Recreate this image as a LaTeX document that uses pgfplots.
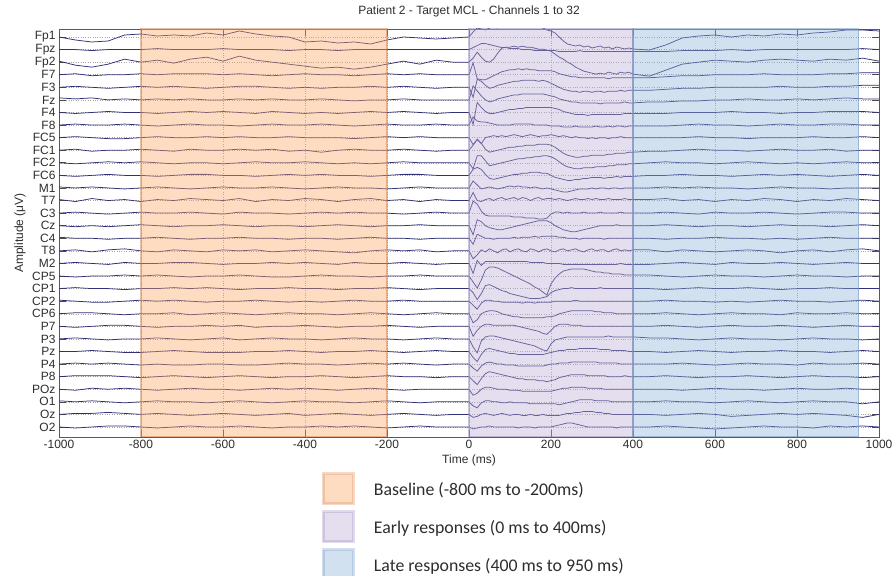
\documentclass[border=0pt]{standalone}
\usepackage{fontspec}
\setmainfont{Liberation Sans}
\newfontfamily\legfont{Carlito}
\usepackage{pgfplots}
\usepackage{pgfplotstable}
\pgfplotsset{compat=1.18}
\definecolor{trcol}{RGB}{48,48,118}
\definecolor{ofill}{RGB}{250,168,103}
\definecolor{oline}{RGB}{215,130,75}
\definecolor{pfill}{RGB}{188,172,212}
\definecolor{pline}{RGB}{150,135,190}
\definecolor{bfill}{RGB}{143,180,218}
\definecolor{bline}{RGB}{105,145,190}
\definecolor{txt}{RGB}{45,45,45}

% one row per channel: deviation (px, up positive) at the times of row t
\pgfplotstableread[header=false,row sep=\\]{
t
-1000 -960 -920 -880 -840 -800 -760 -720 -680 -640
-600 -560 -520 -480 -440 -400 -360 -320 -280 -240
-200 -160 -120 -80 -40
0 10 20 30 40 50 60 70 80 90
100 110 120 130 140 150 160 170 180 190
200 210 220 230 240 250 260 270 280 290
300 310 320 330 340 350 360 370 380 390
400
440 480 520 560 600 640 680 720 760 800
840 880 920 960 1000 \\
c1
0 -3 -5 -4 2 3 1 2 1 4
2 6 3 1 0 -5 -4 -6 -5 -7
-3 0 -1 -2 -1
0 5 9 8 7 9 10 9 14 15
15 16 16 15 16 15 14 12 9 7
6 4 0 -4 -7 -8 -9 -8 -10 -9
-11 -10 -9 -11 -10 -12 -10 -11 -12 -11
-12
-13 -8 -1 1 2 0 2 1 3 2
4 5 7 7 6 \\
c2
0 0 -1 0 0 0 1 0 0 0
1 0 0 0 -1 0 0 -1 0 0
0 0 0 0 0
0 2 4 6 6 5 4 3 2 2
1 1 1 0 0 0 -1 -1 -1 -1
-1 -1 -2 -2 -2 -2 -2 -1 -2 -2
-2 -2 -2 -2 -2 -2 -2 -2 -2 -2
-2
-2 -2 -1 -1 -1 0 -1 0 0 0
0 0 0 1 0 \\
c3
1 -3 -5 -2 3 0 2 -1 3 5
1 6 2 0 -2 -4 -6 -5 -7 -5
-2 1 -2 2 0
0 4 10 5 1 0 3 9 14 15
15 16 15 16 15 15 14 13 13 12
11 8 5 3 0 -2 -5 -7 -9 -10
-11 -12 -11 -12 -10 -11 -12 -10 -11 -10
-12
-14 -8 -2 0 2 1 0 2 3 2
1 3 2 4 1 \\
c4
0 1 -1 0 0 1 0 1 1 1
0 1 0 -1 0 1 0 0 -1 0
1 0 1 0 0
0 12 -4 -5 -5 -3 -1 1 3 4
5 5 6 5 6 5 5 4 4 4
4 3 1 0 -1 -2 -2 -3 -3 -3
-3 -3 -3 -3 -4 -3 -3 -3 -3 -3
-3
-3 -2 -1 -1 0 0 0 1 0 0
0 1 1 2 2 \\
c5
0 1 0 -1 0 1 0 1 0 -1
0 1 1 0 -1 0 -1 0 0 1
0 1 0 -1 0
0 -10 8 6 2 -1 0 2 3 4
5 6 6 7 7 7 7 6 7 6
4 2 0 -2 -3 -4 -4 -5 -4 -4
-5 -4 -4 -5 -4 -4 -4 -3 -4 -3
-3
-3 -2 -1 -1 0 0 0 0 1 0
0 1 1 2 2 \\
c6
2 1 2 0 1 0 1 0 1 0
0 1 0 1 0 0 1 0 -1 0
0 1 0 0 0
0 14 9 4 0 -2 -1 1 2 3
4 5 5 6 6 6 6 6 6 5
4 3 1 0 -1 -2 -2 -3 -3 -3
-3 -3 -4 -3 -3 -3 -3 -3 -2 -3
-3
-2 -2 -1 -1 0 0 1 0 0 1
0 1 2 1 1 \\
c7
0 -1 0 1 0 0 -1 0 1 0
1 0 -1 1 0 -1 0 -1 0 1
0 1 0 -1 0
0 -12 10 5 1 -1 -1 0 1 2
3 3 4 4 5 5 5 5 5 5
5 4 3 1 0 -1 -2 -2 -2 -3
-2 -2 -2 -2 -2 -2 -2 -2 -1 -1
-1
-1 -1 0 0 0 1 0 0 -1 0
0 1 1 1 0 \\
c8
0 1 0 0 1 0 -1 0 1 0
0 -1 0 1 0 0 1 0 -1 0
1 0 0 1 0
0 8 4 3 3 2 1 0 0 0
0 1 1 1 1 1 0 0 0 0
-1 -1 -1 -2 -2 -2 -1 -2 -2 -2
-2 -1 -2 -2 -1 -2 -1 -1 -2 -1
-1
-1 -1 0 1 0 0 -1 0 1 0
0 1 1 0 0 \\
c9
0 1 0 -1 -1 0 1 0 0 1
0 1 0 0 1 0 0 0 -1 0
1 0 1 0 0
0 -7 -2 -6 0 1 2 1 2 1
2 3 2 1 2 3 2 1 2 2
3 2 1 2 1 0 1 0 0 -1
0 -1 0 0 -1 0 0 1 0 0
0
0 0 0 1 0 0 -1 0 0 0
1 0 0 1 0 \\
c10
0 1 -1 0 0 1 0 -1 1 0
0 1 0 1 -1 0 -2 0 1 0
0 1 0 -1 0
0 5 11 7 1 -2 -1 0 1 2
3 3 4 4 5 5 5 6 6 6
5 3 0 -3 -5 -6 -7 -7 -6 -6
-5 -5 -5 -5 -4 -4 -3 -3 -3 -2
-2
-1 -1 0 1 0 0 -1 0 1 0
0 1 -1 0 0 \\
c11
0 -1 0 1 0 1 0 -1 0 0
-1 0 1 0 0 1 0 -1 0 -1
0 1 0 0 0
0 -6 7 7 2 -3 -2 -1 0 1
2 3 4 4 5 5 6 6 7 7
6 4 1 -2 -4 -5 -6 -6 -5 -5
-5 -4 -4 -4 -3 -3 -2 -2 -2 -1
-1
0 1 0 0 -1 0 1 0 -1 0
-1 0 1 0 0 \\
c12
0 -1 0 1 0 0 -1 0 1 1
0 0 -1 0 1 0 1 0 0 -1
0 1 1 0 0
0 6 8 6 1 -3 -4 -3 -2 -1
0 1 1 2 2 3 3 3 2 2
0 -2 -3 -4 -5 -5 -4 -4 -3 -3
-2 -2 -2 -3 -2 -2 -1 -2 -1 -1
-1
0 0 1 0 0 -1 0 1 0 1
0 -1 0 1 0 \\
c13
1 0 1 0 -1 0 1 0 -1 0
1 0 0 1 0 -1 0 1 0 0
-1 0 1 0 0
0 7 3 -1 0 1 0 -1 0 1
2 1 2 1 1 0 1 0 -1 0
-1 -2 -3 -4 -4 -3 -2 -1 -1 -1
0 -1 0 0 -1 0 0 -1 0 0
0
0 1 0 1 0 0 -1 0 1 0
0 -1 0 0 0 \\
c14
1 -1 2 0 1 -1 1 0 2 1
0 2 -1 1 0 2 1 -1 1 2
0 1 -1 1 0
0 8 0 -1 1 2 0 2 3 1
2 3 1 3 2 0 2 3 1 2
2 1 2 1 0 1 2 1 1 2
1 2 1 1 2 1 1 1 2 1
1
1 2 0 1 -1 1 0 2 1 -1
1 0 2 1 0 \\
c15
0 1 0 -1 0 1 0 0 1 0
-1 1 0 0 -1 0 1 0 1 0
0 -1 0 1 0
0 12 9 2 -2 -3 -3 -3 -3 -3
-3 -4 -4 -4 -5 -5 -5 -6 -6 -5
-1 1 1 0 1 0 0 0 1 0
0 0 1 0 0 0 0 1 0 0
0
0 1 0 -1 1 0 0 1 0 -1
0 1 1 0 0 \\
c16
0 -1 0 -1 0 1 0 -1 0 0
1 0 -1 0 0 -1 0 1 0 -1
0 0 1 0 0
0 -9 6 4 0 -2 -3 -4 -4 -3
-2 -1 0 1 2 3 4 5 5 5
3 0 -2 -4 -5 -6 -6 -5 -4 -3
-2 -1 0 0 0 0 1 0 0 0
0
0 1 0 -1 0 0 -1 0 1 0
0 -1 0 1 0 \\
c17
1 0 0 -1 0 0 1 0 -1 0
0 1 0 0 -1 0 0 -1 0 1
0 0 -1 0 0
0 -6 4 2 0 0 -1 0 0 0
0 1 0 1 1 1 2 1 2 2
2 2 1 1 0 0 0 -1 0 0
0 0 0 -1 0 0 0 0 0 0
0
0 -1 0 0 1 0 0 -1 0 -1
0 1 0 0 0 \\
c18
0 1 -1 1 2 0 -1 1 0 -1
1 0 1 -1 0 1 0 -1 -2 0
1 0 1 -1 0
0 -8 -4 1 -1 2 0 -2 1 2
-1 1 2 0 -1 2 1 -1 1 2
0 -1 1 2 0 1 2 0 -1 1
2 0 1 1 -1 1 2 0 1 0
1
1 -1 1 0 -1 0 1 0 -2 0
1 -1 1 2 0 \\
c19
0 1 0 -1 1 0 0 1 1 0
-1 0 0 1 0 1 0 -1 1 0
0 1 0 -1 0
0 -10 3 -2 2 2 2 2 2 2
2 2 2 2 2 1 1 1 1 0
0 0 0 -1 -1 -1 -1 -1 -1 -1
-1 -1 -1 -1 -1 -1 -1 0 -1 -1
-1
-1 0 1 0 -1 1 0 0 1 0
-1 0 1 0 0 \\
c20
0 -1 0 0 1 0 1 0 -1 0
0 1 0 -1 -1 0 1 0 0 -1
0 0 1 0 0
0 -6 -12 -4 6 9 9 8 6 4
2 0 -2 -4 -6 -8 -11 -13 -16 -19
-8 -2 2 5 6 7 7 7 7 6
5 4 4 3 3 2 2 2 1 1
1
1 0 -1 0 1 0 0 -1 0 1
0 0 -1 0 0 \\
c21
0 1 0 0 -1 0 0 1 0 1
0 -1 0 0 1 0 0 -1 0 0
1 0 -1 0 0
0 -4 -11 -5 3 4 2 0 -2 -3
-5 -6 -7 -8 -9 -10 -10 -10 -9 -8
-4 -2 -1 0 0 1 0 0 0 0
0 0 1 0 0 0 0 0 0 0
0
0 -1 0 1 0 0 1 0 -1 0
0 1 0 0 0 \\
c22
1 0 -1 -1 0 1 0 1 0 -1
0 0 1 0 -1 0 -1 0 1 0
0 1 0 0 0
0 -4 -8 -2 1 1 0 0 -1 -1
-1 -1 -1 -2 -1 -1 -2 -1 -1 -1
-1 0 0 0 0 0 1 0 0 0
0 0 0 0 0 0 0 0 0 0
0
0 1 0 0 -1 0 -1 0 1 0
0 -1 0 1 0 \\
c23
0 1 1 0 -1 0 0 1 -1 0
1 0 -1 0 1 0 0 -1 0 1
0 -1 0 1 0
0 -9 -6 0 2 3 3 2 0 -1
-2 -3 -3 -4 -4 -4 -4 -4 -4 -3
-3 -2 0 1 2 3 3 3 3 3
3 2 2 1 1 1 0 0 0 0
0
0 1 0 -1 0 1 0 0 -1 1
0 0 1 0 0 \\
c24
0 -1 0 1 1 0 -1 0 0 1
0 1 -1 0 0 1 0 -1 0 0
1 0 -1 0 0
0 -10 -4 0 2 2 1 1 1 1
1 1 0 -1 -2 -3 -4 -5 -7 -8
-4 0 2 2 2 1 1 1 0 0
0 0 0 0 0 0 0 0 0 0
0
0 1 0 -1 0 1 0 0 1 0
-1 0 1 0 0 \\
c25
0 1 0 -1 0 0 1 0 -1 0
1 -1 0 1 0 0 -1 0 1 0
0 -1 0 1 0
0 -8 -14 -2 2 3 3 2 1 0
-1 -2 -3 -4 -5 -6 -7 -9 -11 -12
-5 -1 0 1 2 2 2 2 2 2
2 2 2 2 3 2 2 2 2 2
2
1 1 0 -1 0 1 0 0 -1 0
1 0 0 -1 0 \\
c26
0 0 1 0 -1 -1 0 1 0 -1
-1 -1 0 0 1 0 -1 0 0 1
0 -1 0 1 0
0 -6 -10 -3 2 3 2 1 0 -1
-2 -2 -3 -3 -3 -3 -3 -3 -3 -2
-1 0 1 1 2 2 2 3 3 3
3 3 2 2 2 1 1 1 1 0
0
0 -1 0 1 0 -1 0 0 1 0
0 -1 0 1 0 \\
c27
0 1 0 1 0 -1 0 -1 -1 0
0 -1 -1 0 1 0 0 -1 0 1
0 1 0 -1 0
0 -4 -7 -2 1 2 1 0 0 -1
-1 -1 -2 -2 -2 -2 -2 -2 -2 -1
0 0 1 1 1 2 2 2 2 2
2 2 1 1 1 1 1 0 0 0
0
0 0 1 0 -1 0 1 0 0 -1
1 0 0 1 0 \\
c28
0 1 1 1 0 -1 0 1 0 -1
0 1 0 -1 0 0 1 0 -1 0
1 0 0 -1 0
0 -4 -8 -2 3 5 4 3 2 1
0 -1 -2 -2 -3 -3 -3 -4 -4 -5
-4 -3 -1 0 1 2 2 2 2 1
1 1 1 1 0 0 0 0 1 0
0
0 1 0 -1 0 0 1 0 -1 0
1 0 0 -1 0 \\
c29
0 -1 1 0 1 0 -1 0 1 0
0 -1 0 1 0 1 0 -1 0 1
0 -1 0 0 0
0 -6 -4 0 2 2 1 0 0 0
-1 -1 -1 -2 -2 -2 -2 -2 -2 -2
-2 -1 0 1 1 2 2 2 2 1
1 1 1 0 0 0 0 0 0 0
0
0 0 -1 0 1 0 0 -1 0 1
0 0 1 0 0 \\
c30
1 0 1 0 -1 0 1 0 0 -1
0 1 0 -1 0 1 0 0 -1 0
1 0 -1 0 0
0 -4 -6 -1 1 1 0 0 -1 -1
0 -1 -1 -1 -1 -2 -2 -2 -2 -2
-2 -2 -3 -2 -1 0 1 2 2 2
2 1 1 1 1 0 0 0 0 0
0
0 1 0 0 -1 0 1 0 -1 0
1 0 0 -2 0 \\
c31
0 1 1 2 1 0 1 0 -1 0
1 0 -1 0 1 -1 0 1 0 -1
0 1 0 -1 0
0 -3 -2 0 1 0 -1 0 1 0
-1 0 0 -1 -1 0 -1 -1 0 -1
-1 -1 -1 0 1 1 2 2 3 3
3 2 2 1 1 0 0 0 0 0
0
0 -1 0 1 0 -2 -1 0 1 0
1 0 -1 -3 0 \\
c32
0 -1 0 1 1 0 -1 0 1 0
0 1 0 -1 0 0 1 0 1 0
-1 0 1 0 0
0 -2 -1 0 0 1 0 0 0 0
0 0 -1 0 0 0 -1 0 0 0
0 1 2 3 4 4 3 2 1 0
0 0 0 0 0 0 -1 0 0 0
0
0 1 0 -1 -2 -1 0 1 0 0
-1 1 0 1 0 \\
}\raw
\pgfplotstabletranspose[colnames from=0]{\data}{\raw}

\begin{document}
\begin{tikzpicture}
\useasboundingbox (0,0) rectangle (893pt,575pt);
\begin{axis}[
  at={(59pt,138pt)}, anchor=south west,
  scale only axis, width=820pt, height=408pt,
  xmin=-1000, xmax=1000, ymin=0, ymax=408,
  clip=true,
  xtick={-1000,-800,-600,-400,-200,0,200,400,600,800,1000},
  xticklabels={-1000,-800,-600,-400,-200,0,200,400,600,800,1000},
  ytick={10.02,22.6,35.18,47.76,60.34,72.92,85.5,98.08,110.66,123.24,135.82,148.4,160.98,173.56,186.14,198.72,211.3,223.88,236.46,249.04,261.62,274.2,286.78,299.36,311.94,324.52,337.1,349.68,362.26,374.84,387.42,400},
  yticklabels={O2,Oz,O1,POz,P8,P4,Pz,P3,P7,CP6,CP2,CP1,CP5,M2,T8,C4,Cz,C3,T7,M1,FC6,FC2,FC1,FC5,F8,F4,Fz,F3,F7,Fp2,Fpz,Fp1},
  tick align=inside, tick pos=both, xticklabel pos=lower, yticklabel pos=left,
  major tick length=7pt,
  grid=major, major grid style={dotted, black!35, line width=0.5pt},
  axis line style={black!65, line width=0.6pt},
  every tick/.style={black!70, line width=0.6pt},
  tick label style={font=\fontsize{12}{12}\selectfont, text=txt},
  title={Patient 2 - Target MCL - Channels 1 to 32},
  title style={at={(axis description cs:0.5,1.0294)}, anchor=center, inner sep=0pt, font=\fontsize{12}{12}\selectfont, text=txt},
  xlabel={Time (ms)},
  xlabel style={at={(axis description cs:0.5,-0.0564)}, anchor=center, inner sep=0pt, font=\fontsize{12}{12}\selectfont, text=txt},
  ylabel={Amplitude (μV)},
  ylabel style={at={(axis description cs:-0.0476,0.5)}, anchor=center, inner sep=0pt, font=\fontsize{12}{12}\selectfont, text=txt},
  legend image code/.code={\draw[#1, line width=3pt, draw opacity=0.3] (0pt,-15pt) rectangle (30pt,15pt);},
  legend cell align=left,
  legend style={at={(axis description cs:0.3207,-0.0858)}, anchor=north west,
    draw=none, fill=none, inner sep=0pt, outer sep=0pt,
    row sep=5pt, column sep=19pt,
    nodes={inner sep=0pt, text depth=0pt, text=txt},
    font=\legfont\fontsize{17.8}{20}\selectfont},
]
\pgfplotsinvokeforeach{1,...,32}{
  \addplot[trcol, line width=0.75pt, forget plot] table[x=t, y expr={\thisrow{c#1}+400-(#1-1)*12.58}]{\data};
}
\addplot[draw=oline, draw opacity=0.5, line width=1.2pt, fill=ofill, fill opacity=0.4]
  coordinates {(-800,0) (-800,408) (-200,408) (-200,0)} -- cycle;
\addlegendentry{Baseline (-800 ms to -200ms)}
\addplot[draw=pline, draw opacity=0.5, line width=1.2pt, fill=pfill, fill opacity=0.4]
  coordinates {(0,0) (0,408) (400,408) (400,0)} -- cycle;
\addlegendentry{Early responses (0 ms to 400ms)}
\addplot[draw=bline, draw opacity=0.5, line width=1.2pt, fill=bfill, fill opacity=0.4]
  coordinates {(400,0) (400,408) (950,408) (950,0)} -- cycle;
\addlegendentry{Late responses (400 ms to 950 ms)}
\end{axis}
\end{tikzpicture}
\end{document}
